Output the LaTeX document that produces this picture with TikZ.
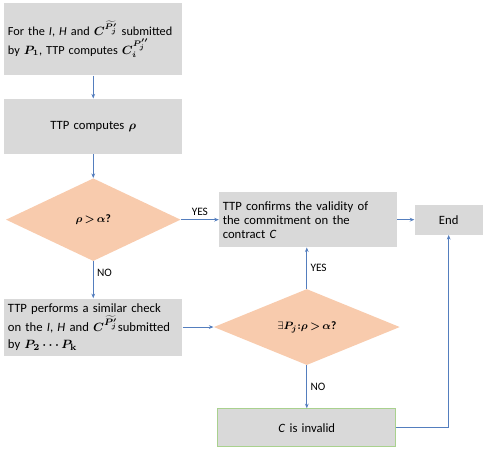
\documentclass[tikz,border=0pt]{standalone}
\usepackage{amsmath}
\usepackage[no-math]{fontspec}
\setmainfont{Carlito}
\usetikzlibrary{shapes.geometric, arrows.meta, positioning}
\definecolor{agray}{RGB}{217,217,217}
\definecolor{apeach}{RGB}{248,203,173}
\definecolor{ablue}{RGB}{84,126,190}
\definecolor{agreen}{RGB}{169,209,142}
\newcommand{\tgt}{\mskip3mu{>}\mskip3mu}

\begin{document}
\begin{tikzpicture}[node distance=18pt,
  font=\fontsize{9.5}{10.5}\selectfont,
  box/.style={
    rectangle, fill=agray,
    text width=128pt, minimum width=133.5pt,
    inner xsep=2.75pt, align=left
  },
  cbox/.style={box, align=center},
  check/.style={
    diamond, fill=apeach, aspect=2.45, inner sep=0pt,
    font=\fontsize{8.5}{10}\selectfont
  },
  arr/.style={-{Stealth[length=3.5pt,width=2.8pt]}, line width=0.6pt, draw=ablue},
  lbl/.style={font=\fontsize{8.5}{10}\selectfont, inner sep=2.5pt}
]
  \useasboundingbox (-3pt,2.25pt) rectangle (360pt,-334.5pt);

  \node[box, minimum height=54pt, anchor=north west,
        font=\fontsize{9.2}{14}\selectfont] (inp) at (0,0)
    {For the \textit{I}, \textit{H} and $\boldsymbol{C^{\widetilde{P_j'}}}$ submitted\\
     by $\boldsymbol{P_1}$, TTP computes $\boldsymbol{C_i^{P_j''}}$};
  \node[cbox, minimum height=41.25pt, below=17.25pt of inp] (rho)
    {TTP computes $\boldsymbol{\rho}$};
  \node[check, minimum width=131pt, minimum height=62pt, below=18pt of rho] (cmp)
    {$\boldsymbol{\rho\tgt\alpha}$\textbf{?}};
  \node[box, minimum height=42.75pt, below=27.75pt of cmp,
        font=\fontsize{9.5}{13}\selectfont] (oth)
    {TTP performs a similar check\\
     on the \textit{I}, \textit{H} and $\boldsymbol{C^{\widetilde{P_j'}}}$submitted\\
     by $\boldsymbol{P_2\cdots P_{\mathbf{k}}}$};
  \node[box, minimum height=41.25pt, right=28.5pt of cmp] (ok)
    {TTP confirms the validity of\\
     the commitment on the\\
     contract \textit{C}};
  \node[cbox, text width=45.5pt, minimum width=51pt, minimum height=22.5pt,
        right=12.75pt of ok] (fin) {End};
  \node[check, minimum width=139.5pt, minimum height=57pt, right=23.25pt of oth] (any)
    {$\exists\boldsymbol{P_j{:}\rho\tgt\alpha}$\textbf{?}};
  \node[cbox, draw=agreen, line width=0.8pt, minimum height=28.5pt,
        below=32.25pt of any] (bad) {\textit{C} is invalid};

  \draw[arr] (inp) -- (rho);
  \draw[arr] (rho) -- (cmp);
  \draw[arr] (cmp) -- node[lbl, above] {YES} (ok);
  \draw[arr] (cmp) -- node[lbl, right, pos=0.3] {NO} (oth);
  \draw[arr] (ok) -- (fin);
  \draw[arr] (oth) -- (any);
  \draw[arr] (any.north) -- node[lbl, right] {YES} (any.north |- ok.south);
  \draw[arr] (any) -- node[lbl, right] {NO} (bad);
  \draw[arr] (bad) -| (fin);
\end{tikzpicture}
\end{document}
